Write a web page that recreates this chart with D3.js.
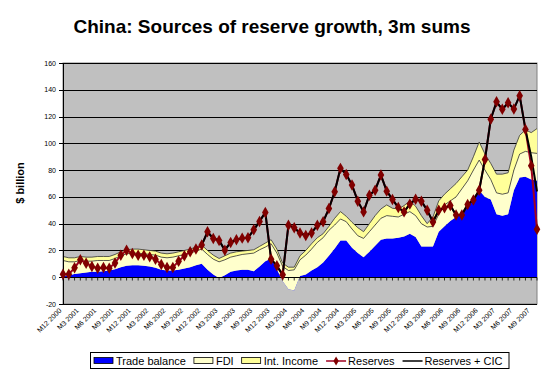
<!DOCTYPE html>
<html lang="en">
<head>
  <meta charset="utf-8">
  <script src="https://d3js.org/d3.v7.min.js"></script>
  <style>
    body { margin: 0; background: #fff; }
    text { font-family: Arial, "Liberation Sans", sans-serif; }
  </style>
</head>
<body>
  <svg id="chart" width="547" height="374"></svg>
  <script>
    // monthly categories, M12 2000 .. M10 2007
    const months = [];
    for (let i = 0; i < 83; i++) {
      months.push("M" + ((11 + i) % 12 + 1) + " " + (2000 + Math.floor((11 + i) / 12)));
    }
    const yTicks = [-20, 0, 20, 40, 60, 80, 100, 120, 140, 160];

    // 3m sums, $ billion
    const trade = [1, 1.5, 2.5, 3, 3.5, 4, 4, 4.5, 5, 6, 7.5, 8.5, 9, 9, 8.5, 8, 7, 5.5, 5, 5,
      5.5, 6.5, 7.5, 9, 10, 5.5, 2, -0.5, 1.5, 4, 5, 5.5, 5.5, 4.5, 8, 12, 14, 6, -3, -9,
      -10, 1, 2, 5, 7.5, 11, 16, 21.5, 27.5, 27.5, 22, 18, 15, 19, 23.5, 28, 29, 29, 29.5, 30.5,
      32.5, 30, 23, 23, 23, 34, 38, 42, 45, 49, 54, 60, 65, 60, 58, 47, 46, 47, 65, 74.5,
      75, 73, 72];
    const fdi = [11.5, 10, 9, 9.5, 8.5, 8, 8.5, 8, 7.5, 8, 8.5, 9, 9, 9, 9, 9, 9.5, 9.5, 9.5, 10,
      10.5, 10.5, 10.5, 10.5, 11, 11.5, 11.5, 12, 11.5, 11, 11, 11.5, 12, 13.5, 12.5, 10.5, 11, 12, 11, 14,
      15.5, 12, 14.5, 16, 18.5, 18.5, 19, 17.5, 16, 14, 14, 13, 14, 15, 15.5, 16, 17, 16.5, 15.5, 16.5,
      16.5, 16, 17, 14.5, 15, 13, 16, 15, 15, 17, 18, 20, 22.5, 20, 15, 16, 16, 16, 15, 17.5,
      19, 20, 20.5];
    const income = [3, 3, 3, 3, 3, 3, 3, 3, 3, 3, 3, 3, 3, 3, 3, 3, 3, 3, 3, 3,
      3, 3, 3, 3, 3, 3, 3, 2.5, 3, 3, 3, 2.5, 2.5, 2.5, 2.5, 3, 3, 3, 2.5, 2.5,
      2, 3, 3.5, 4, 3.5, 3, 3, 5, 5.5, 4, 5, 6, 5, 6, 7, 7, 8, 6, 6, 6.5,
      8, 7, 6, 2.5, 7, 10, 8, 9, 10, 9, 8, 10, 13.5, 12, 12, 14, 15, 15, 15, 14,
      16, 15, 18.5];
    const reserves = [2.2, 2.2, 7, 13, 10.5, 8, 6.7, 7.3, 6.7, 10.7, 16.4, 20.2, 17.7, 16.4, 16.4, 15.2, 13.5, 9.5, 7.3, 7.3,
      12, 16, 19, 21, 24, 33.9, 28.9, 27.5, 20.2, 26, 28, 29.2, 29.5, 35.4, 41.7, 48.4, 13.5, 8.5, 1.8, 38.9,
      36.9, 33, 31.2, 33, 38.9, 41.4, 51.3, 63.8, 81.3, 76.8, 68.8, 56.8, 48.8, 61.3, 65, 76.3, 64.3, 58.1, 52.1, 48.8,
      54.6, 58.3, 56.8, 50.1, 41.3, 50, 51.8, 53.6, 46.4, 46.4, 54.3, 57.6, 65, 88, 118, 131, 125.4, 130.3, 125.6, 135.6,
      110.4, 83.2, 35.9];
    const reservesCic = reserves.map((v, i) => i < 24 ? null : v);
    reservesCic[81] = 90;
    reservesCic[82] = 64;

    const svg = d3.select("#chart");
    const plot = { left: 63, right: 537, top: 63, bottom: 304 };

    const x = d3.scalePoint().domain(months).range([plot.left, plot.right]);
    const y = d3.scaleLinear().domain([-20, 160]).range([plot.bottom, plot.top]);
    const rows = months.map((m, i) => ({ m: m, trade: trade[i], fdi: fdi[i], income: income[i] }));

    // title
    svg.append("text")
      .attr("x", 272).attr("y", 33)
      .attr("text-anchor", "middle")
      .style("font-size", "19px").style("font-weight", "bold")
      .text("China: Sources of reserve growth, 3m sums");

    svg.append("text")
      .attr("transform", "translate(24,183) rotate(-90)")
      .attr("text-anchor", "middle")
      .style("font-size", "11px").style("font-weight", "bold")
      .text("$ billion");

    // plot area
    svg.append("rect")
      .attr("x", plot.left).attr("y", plot.top)
      .attr("width", plot.right - plot.left).attr("height", plot.bottom - plot.top)
      .attr("fill", "#c0c0c0").attr("stroke", "#808080");

    svg.append("g").selectAll("line").data(yTicks).join("line")
      .attr("x1", plot.left).attr("x2", plot.right)
      .attr("y1", d => Math.round(y(d)) + 0.5).attr("y2", d => Math.round(y(d)) + 0.5)
      .attr("stroke", "#000").attr("stroke-width", 1);

    // stacked areas
    const stack = d3.stack().keys(["trade", "fdi", "income"]).offset(d3.stackOffsetNone);
    const layers = stack(rows);
    const fills = ["#0000ff", "#ffffcc", "#ffff99"];
    const area = d3.area().x(d => x(d.data.m)).y0(d => y(d[0])).y1(d => y(d[1]));
    const topLine = d3.line().x(d => x(d.data.m)).y(d => y(d[1]));

    svg.append("g").selectAll("path").data(layers).join("path")
      .attr("d", area)
      .attr("fill", (d, i) => fills[i]);
    svg.append("g").selectAll("path").data(layers.slice(1)).join("path")
      .attr("d", topLine)
      .attr("fill", "none").attr("stroke", "#333").attr("stroke-width", 0.8);

    // zero axis with category ticks
    const y0 = Math.round(y(0)) + 0.5;
    svg.append("line")
      .attr("x1", plot.left).attr("x2", plot.right).attr("y1", y0).attr("y2", y0)
      .attr("stroke", "#000");
    svg.append("g").selectAll("line").data(months).join("line")
      .attr("x1", d => x(d)).attr("x2", d => x(d))
      .attr("y1", y0).attr("y2", y0 + 3)
      .attr("stroke", "#000").attr("stroke-width", 0.8);

    // category labels, every third month, below the plot
    svg.append("g").selectAll("text").data(months.filter((m, i) => i % 3 === 0)).join("text")
      .attr("transform", d => "translate(" + (x(d) - 1) + "," + (plot.bottom + 7) + ") rotate(-45)")
      .attr("text-anchor", "end")
      .style("font-size", "7px")
      .text(d => d);

    // value axis
    svg.append("line")
      .attr("x1", plot.left + 0.5).attr("x2", plot.left + 0.5)
      .attr("y1", plot.top).attr("y2", plot.bottom)
      .attr("stroke", "#000");
    svg.append("g").selectAll("line").data(yTicks).join("line")
      .attr("x1", plot.left - 4).attr("x2", plot.left)
      .attr("y1", d => Math.round(y(d)) + 0.5).attr("y2", d => Math.round(y(d)) + 0.5)
      .attr("stroke", "#000");
    svg.append("g").selectAll("text").data(yTicks).join("text")
      .attr("x", plot.left - 7).attr("y", d => y(d) + 2.5)
      .attr("text-anchor", "end")
      .style("font-size", "7px")
      .text(d => d);

    // reserve lines
    const line = d3.line().defined(d => d[1] !== null).x(d => x(d[0])).y(d => y(d[1]));
    svg.append("path")
      .attr("d", line(months.map((m, i) => [m, reserves[i]])))
      .attr("fill", "none").attr("stroke", "#a00020").attr("stroke-width", 2);
    svg.append("path")
      .attr("d", line(months.map((m, i) => [m, reservesCic[i]])))
      .attr("fill", "none").attr("stroke", "#000").attr("stroke-width", 2);

    const diamond = d3.symbol().type(d3.symbolDiamond).size(38);
    svg.append("g").selectAll("path").data(reserves).join("path")
      .attr("transform", (d, i) => "translate(" + x(months[i]) + "," + y(d) + ")")
      .attr("d", diamond)
      .attr("fill", "#800000");

    // legend
    const legend = svg.append("g");
    const items = [
      { name: "Trade balance", kind: "box", color: "#0000ff" },
      { name: "FDI", kind: "box", color: "#ffffcc" },
      { name: "Int. Income", kind: "box", color: "#ffff99" },
      { name: "Reserves", kind: "marker", color: "#a00020" },
      { name: "Reserves + CIC", kind: "line", color: "#000" }
    ];
    let lx = 94;
    const ly = 361;
    const legendDiamond = d3.symbol().type(d3.symbolDiamond).size(24);
    items.forEach(it => {
      if (it.kind === "box") {
        legend.append("rect")
          .attr("x", lx).attr("y", ly - 3.5).attr("width", 19).attr("height", 6)
          .attr("fill", it.color).attr("stroke", "#000").attr("stroke-width", 0.8);
      } else {
        legend.append("line")
          .attr("x1", lx).attr("x2", lx + 20).attr("y1", ly).attr("y2", ly)
          .attr("stroke", it.color).attr("stroke-width", 1.5);
        if (it.kind === "marker") {
          legend.append("path")
            .attr("transform", "translate(" + (lx + 10) + "," + ly + ")")
            .attr("d", legendDiamond).attr("fill", "#800000");
        }
      }
      const t = legend.append("text")
        .attr("x", lx + 22).attr("y", ly + 4)
        .style("font-size", "11px")
        .text(it.name);
      lx += 22 + t.node().getComputedTextLength() + 8;
    });
    svg.insert("rect", "g:last-child")
      .attr("x", 90.5).attr("y", 352.5)
      .attr("width", lx - 92).attr("height", 16)
      .attr("fill", "#fff").attr("stroke", "#000");
    legend.raise();
  </script>
</body>
</html>
